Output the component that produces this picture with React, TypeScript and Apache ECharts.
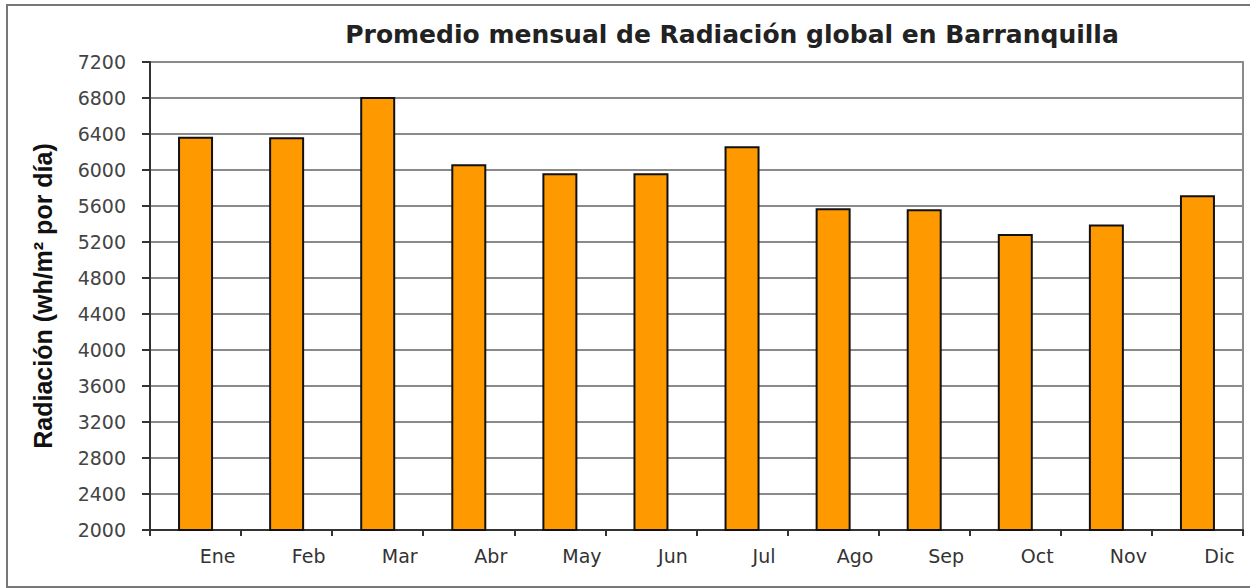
import React, { useEffect, useRef } from "react";
import * as echarts from "echarts";

const months = ["Ene", "Feb", "Mar", "Abr", "May", "Jun", "Jul", "Ago", "Sep", "Oct", "Nov", "Dic"];
const radiacion = [6370, 6365, 6810, 6065, 5965, 5965, 6265, 5575, 5565, 5290, 5395, 5720];
const yMin = 2000;
const yMax = 7200;
const yStep = 400;
const titleText = "Promedio mensual de Radiación global en Barranquilla";
const yAxisName = "Radiación (wh/m² por día)";

export default function App() {
  const ref = useRef<HTMLDivElement>(null);
  useEffect(() => {
    if (!ref.current) return;
    const chart = echarts.init(ref.current, null, { renderer: "svg" });
    chart.setOption({
      animation: false,
      backgroundColor: "#ffffff",
      title: {
        text: titleText,
        left: 727,
        textAlign: "center",
        top: 17,
        textStyle: { fontFamily: "DejaVu Sans", fontSize: 25, fontWeight: "bold", color: "#222" },
      },
      graphic: [
        {
          type: "rect",
          shape: { x: 7, y: 5, width: 1260, height: 582 },
          style: { fill: "none", stroke: "#777", lineWidth: 2 },
          silent: true,
        },
      ],
      grid: { left: 150, right: 7, top: 62, bottom: 58, containLabel: false, show: false },
      xAxis: {
        type: "category",
        data: months,
        boundaryGap: true,
        axisLine: { show: true, lineStyle: { color: "#333", width: 2 } },
        axisTick: { show: true, inside: false, length: 6, alignWithLabel: false, lineStyle: { color: "#333", width: 2 } },
        axisLabel: {
          fontFamily: "DejaVu Sans",
          fontSize: 19,
          color: "#333",
          margin: 16,
          padding: [0, 0, 0, 44],
        },
        splitLine: { show: false },
      },
      yAxis: [
        {
          type: "value",
          min: yMin,
          max: yMax,
          interval: yStep,
          name: yAxisName,
          nameLocation: "middle",
          nameGap: 95,
          nameRotate: 90,
          nameTextStyle: {
            fontFamily: "Liberation Sans",
            fontSize: 25,
            fontWeight: "bold",
            color: "#111",
          },
          axisLine: { show: true, lineStyle: { color: "#333", width: 2 } },
          axisTick: { show: true, inside: false, length: 8, lineStyle: { color: "#333", width: 2 } },
          axisLabel: {
            fontFamily: "DejaVu Sans",
            fontSize: 19,
            color: "#444",
            margin: 24,
            formatter: (v: number) => String(v),
          },
          splitLine: { show: true, lineStyle: { color: "#8a8a8a", width: 2 } },
        },
        {
          type: "value",
          position: "right",
          min: yMin,
          max: yMax,
          interval: yStep,
          axisLine: { show: true, lineStyle: { color: "#8a8a8a", width: 2 } },
          axisTick: { show: false },
          axisLabel: { show: false },
          splitLine: { show: false },
        },
      ],
      series: [
        {
          type: "bar",
          data: radiacion,
          barWidth: 35,
          itemStyle: { color: "#FF9900", borderColor: "#111", borderWidth: 2 },
        },
      ],
    });
    return () => chart.dispose();
  }, []);
  return <div ref={ref} style={{ position: "fixed", left: 0, top: 0, width: 1250, height: 588 }} />;
}
